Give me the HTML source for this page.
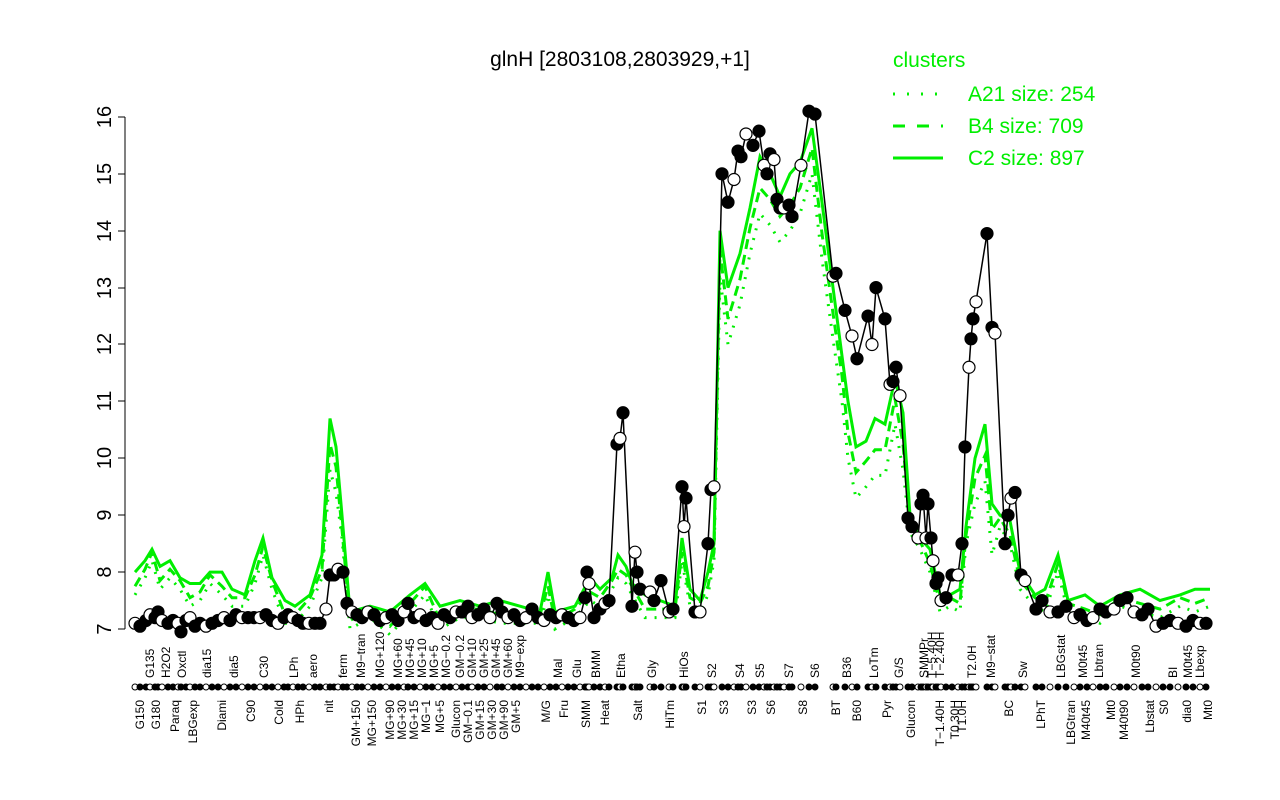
<!DOCTYPE html>
<html><head><meta charset="utf-8"><style>
html,body{margin:0;padding:0;background:#fff;}
svg{display:block;font-family:"Liberation Sans",sans-serif;}
</style></head><body>
<svg id="s" width="1280" height="800" xmlns="http://www.w3.org/2000/svg">
<rect width="1280" height="800" fill="#fff"/>
<text x="620" y="66" font-size="21" text-anchor="middle">glnH [2803108,2803929,+1]</text>
<g stroke="#000" stroke-width="1">
<line x1="125" y1="117" x2="125" y2="629"/>
<line x1="118" y1="629" x2="125" y2="629"/><line x1="118" y1="572" x2="125" y2="572"/>
<line x1="118" y1="515" x2="125" y2="515"/><line x1="118" y1="458" x2="125" y2="458"/>
<line x1="118" y1="401" x2="125" y2="401"/><line x1="118" y1="344" x2="125" y2="344"/>
<line x1="118" y1="288" x2="125" y2="288"/><line x1="118" y1="231" x2="125" y2="231"/>
<line x1="118" y1="174" x2="125" y2="174"/><line x1="118" y1="117" x2="125" y2="117"/>
</g>
<g font-size="20" text-anchor="middle">
<text transform="translate(111,629) rotate(-90)">7</text>
<text transform="translate(111,572) rotate(-90)">8</text>
<text transform="translate(111,515) rotate(-90)">9</text>
<text transform="translate(111,458) rotate(-90)">10</text>
<text transform="translate(111,401) rotate(-90)">11</text>
<text transform="translate(111,344) rotate(-90)">12</text>
<text transform="translate(111,288) rotate(-90)">13</text>
<text transform="translate(111,231) rotate(-90)">14</text>
<text transform="translate(111,174) rotate(-90)">15</text>
<text transform="translate(111,117) rotate(-90)">16</text>
</g>
<g fill="#00ee00" font-size="21">
<text x="893" y="67">clusters</text>
<text x="968" y="101">A21 size: 254</text>
<text x="968" y="133">B4 size: 709</text>
<text x="968" y="165">C2 size: 897</text>
</g>
<g stroke="#00ee00" stroke-width="3">
<line x1="893" y1="94" x2="940" y2="94" stroke-dasharray="2,12"/>
<line x1="893" y1="126" x2="943" y2="126" stroke-dasharray="12,12"/>
<line x1="893" y1="158" x2="943" y2="158"/>
</g>
<g id="g"></g>
<g id="b"></g>
<g id="lab" font-size="12"></g>
</svg>
<script>
function Y(v){return 629-(v-7)*56.9;}
var NS="http://www.w3.org/2000/svg";
function el(t,a,p){var e=document.createElementNS(NS,t);for(var k in a)e.setAttribute(k,a[k]);p.appendChild(e);return e;}
var G=[[135,8.0],[145,8.2],[152,8.4],[160,8.1],[170,8.2],[180,7.9],[190,7.8],[200,7.8],[210,8.0],[222,8.0],[232,7.7],[245,7.6],[255,8.2],[263,8.6],[272,7.9],[285,7.5],[295,7.4],[310,7.6],[322,8.3],[330,10.7],[336,10.2],[342,9.0],[350,7.3],[370,7.4],[390,7.3],[410,7.6],[425,7.8],[440,7.4],[460,7.5],[480,7.4],[500,7.5],[520,7.4],[540,7.3],[548,8.0],[555,7.3],[575,7.4],[590,7.9],[600,7.7],[612,7.9],[618,8.3],[626,8.1],[632,7.8],[645,7.6],[660,7.5],[675,7.4],[682,8.6],[690,7.7],[700,7.5],[708,8.0],[714,8.5],[720,14.0],[728,13.0],[740,13.6],[750,14.4],[760,15.3],[770,15.0],[780,14.6],[790,15.0],[800,15.2],[812,15.8],[822,14.5],[833,13.0],[842,11.8],[848,11.0],[856,10.2],[866,10.3],[875,10.7],[885,10.6],[895,11.4],[903,10.8],[910,9.0],[920,8.6],[930,8.4],[940,7.6],[950,7.6],[960,7.7],[966,8.8],[975,10.0],[985,10.6],[992,9.2],[1000,9.0],[1010,8.9],[1020,8.0],[1035,7.6],[1045,7.7],[1058,8.3],[1068,7.5],[1085,7.6],[1100,7.4],[1120,7.6],[1140,7.7],[1160,7.5],[1180,7.6],[1195,7.7],[1210,7.7]];
var gg=document.getElementById('g');
function pts(arr,dy){return arr.map(function(p,i){return p[0]+','+Y(p[1]+(dy?dy*((i%3)-1)*0.1:0)).toFixed(1);}).join(' ');}
el('polyline',{points:pts(G,0),fill:'none',stroke:'#00ee00','stroke-width':3},gg);
el('polyline',{points:pts(G.map(function(p){return[p[0],p[1]-0.15-(p[1]>9?0.3:0)];}),1),fill:'none',stroke:'#00ee00','stroke-width':3,'stroke-dasharray':'10,6'},gg);
el('polyline',{points:pts(G.map(function(p){return[p[0],p[1]-0.3-(p[1]>9?0.6:0)];}),1),fill:'none',stroke:'#00ee00','stroke-width':3,'stroke-dasharray':'2,8'},gg);
var B=[[135,7.1],[140,7.05],[146,7.15],[150,7.25],[155,7.2],[158,7.3],[162,7.15],[168,7.1],[173,7.15],[178,7.1],[181,6.95],[186,7.15],[190,7.2],[195,7.05],[200,7.1],[206,7.05],[212,7.1],[218,7.15],[224,7.2],[230,7.15],[236,7.25],[242,7.2],[248,7.2],[254,7.2],[260,7.2],[266,7.25],[272,7.15],[278,7.1],[284,7.2],[288,7.25],[293,7.2],[298,7.15],[303,7.1],[309,7.1],[315,7.1],[320,7.1],[326,7.35],[330,7.95],[334,7.95],[338,8.05],[343,8.0],[347,7.45],[352,7.3],[357,7.25],[362,7.2],[368,7.3],[374,7.25],[380,7.15],[386,7.2],[392,7.25],[398,7.15],[404,7.3],[408,7.45],[414,7.2],[420,7.25],[426,7.15],[432,7.2],[438,7.1],[444,7.25],[450,7.2],[456,7.3],[462,7.3],[468,7.4],[472,7.2],[478,7.25],[484,7.35],[490,7.2],[497,7.45],[502,7.3],[508,7.2],[514,7.25],[520,7.15],[526,7.2],[532,7.35],[538,7.2],[544,7.15],[550,7.25],[556,7.2],[562,7.25],[568,7.2],[574,7.15],[580,7.2],[585,7.55],[587,8.0],[589,7.8],[594,7.2],[600,7.35],[605,7.45],[609,7.5],[617,10.25],[620,10.35],[623,10.8],[632,7.4],[635,8.35],[637,8.0],[640,7.7],[650,7.65],[654,7.5],[661,7.85],[669,7.3],[673,7.35],[682,9.5],[684,8.8],[686,9.3],[695,7.3],[700,7.3],[708,8.5],[711,9.45],[714,9.5],[722,15.0],[728,14.5],[734,14.9],[738,15.4],[741,15.3],[746,15.7],[753,15.5],[759,15.75],[764,15.15],[767,15.0],[770,15.35],[774,15.25],[777,14.55],[780,14.4],[784,14.4],[789,14.45],[792,14.25],[801,15.15],[809,16.1],[815,16.05],[833,13.2],[836,13.25],[845,12.6],[852,12.15],[857,11.75],[868,12.5],[872,12.0],[876,13.0],[885,12.45],[890,11.3],[893,11.35],[896,11.6],[900,11.1],[908,8.95],[912,8.8],[918,8.6],[921,9.2],[923,9.35],[926,8.6],[928,9.2],[931,8.6],[933,8.2],[936,7.8],[938,7.9],[941,7.5],[946,7.55],[952,7.95],[958,7.95],[962,8.5],[965,10.2],[969,11.6],[971,12.1],[973,12.45],[976,12.75],[987,13.95],[992,12.3],[995,12.2],[1005,8.5],[1008,9.0],[1011,9.3],[1015,9.4],[1021,7.95],[1025,7.85],[1036,7.35],[1042,7.5],[1050,7.3],[1058,7.3],[1066,7.4],[1074,7.2],[1080,7.25],[1087,7.15],[1093,7.2],[1100,7.35],[1106,7.3],[1114,7.35],[1120,7.5],[1127,7.55],[1134,7.3],[1142,7.25],[1148,7.35],[1156,7.05],[1163,7.1],[1170,7.15],[1178,7.1],[1186,7.05],[1193,7.15],[1200,7.1],[1206,7.1]];
var bb=document.getElementById('b');
el('polyline',{points:pts(B,0),fill:'none',stroke:'#000','stroke-width':1.5},bb);
B.forEach(function(p,i){el('circle',{cx:p[0],cy:Y(p[1]),r:6,fill:(i%3==0?'#fff':'#000'),stroke:'#000','stroke-width':1.2},bb);
 el('circle',{cx:p[0],cy:687,r:3,fill:(i%3==0?'#fff':'#000'),stroke:'#000','stroke-width':1},bb);});
var up=[[150,'G135'],[166,'H2O2'],[182,'Oxctl'],[207,'dia15'],[234,'dia5'],[264,'C30'],[294,'LPh'],[313,'aero'],[343,'ferm'],[361,'M9−tran'],[380,'MG+120'],[398,'MG+60'],[410,'MG+45'],[422,'MG+10'],[434,'MG+5'],[446,'MG−0.2'],[460,'GM−0.2'],[472,'GM+10'],[484,'GM+25'],[496,'GM+45'],[508,'GM+60'],[520,'M9−exp'],[558,'Mal'],[577,'Glu'],[596,'BMM'],[621,'Etha'],[652,'Gly'],[684,'HiOs'],[712,'S2'],[740,'S4'],[760,'S5'],[789,'S7'],[815,'S6'],[847,'B36'],[874,'LoTm'],[899,'G/S'],[924,'SMMPr'],[932,'T−5.40H'],[940,'T−2.40H'],[972,'T2.0H'],[991,'M9−stat'],[1023,'Sw'],[1061,'LBGstat'],[1083,'M0t45'],[1099,'Lbtran'],[1136,'M0t90'],[1173,'BI'],[1188,'M0t45'],[1200,'Lbexp']];
var lo=[[140,'G150'],[156,'G180'],[175,'Paraq'],[193,'LBGexp'],[222,'Diami'],[251,'C90'],[279,'Cold'],[300,'HPh'],[329,'nit'],[356,'GM+150'],[372,'MG+150'],[390,'MG+90'],[402,'MG+30'],[414,'MG+15'],[426,'MG−1'],[440,'MG+5'],[456,'Glucon'],[468,'GM−0.1'],[480,'GM+15'],[492,'GM+30'],[504,'GM+90'],[516,'GM+5'],[546,'M/G'],[564,'Fru'],[586,'SMM'],[605,'Heat'],[638,'Salt'],[670,'HiTm'],[702,'S1'],[724,'S3'],[752,'S3'],[771,'S6'],[803,'S8'],[836,'BT'],[857,'B60'],[887,'Pyr'],[911,'Glucon'],[940,'T−1.40H'],[955,'T0.30H'],[962,'T1.0H'],[1009,'BC'],[1041,'LPhT'],[1071,'LBGtran'],[1086,'M40t45'],[1111,'Mt0'],[1124,'M40t90'],[1150,'Lbstat'],[1164,'S0'],[1187,'dia0'],[1208,'Mt0']];
var lab=document.getElementById('lab');
up.forEach(function(l){var t=el('text',{transform:'translate('+(l[0]+4)+',678) rotate(-90)'},lab);t.textContent=l[1];});
lo.forEach(function(l){var t=el('text',{transform:'translate('+(l[0]+4)+',700) rotate(-90)','text-anchor':'end'},lab);t.textContent=l[1];});
</script>
</body></html>
